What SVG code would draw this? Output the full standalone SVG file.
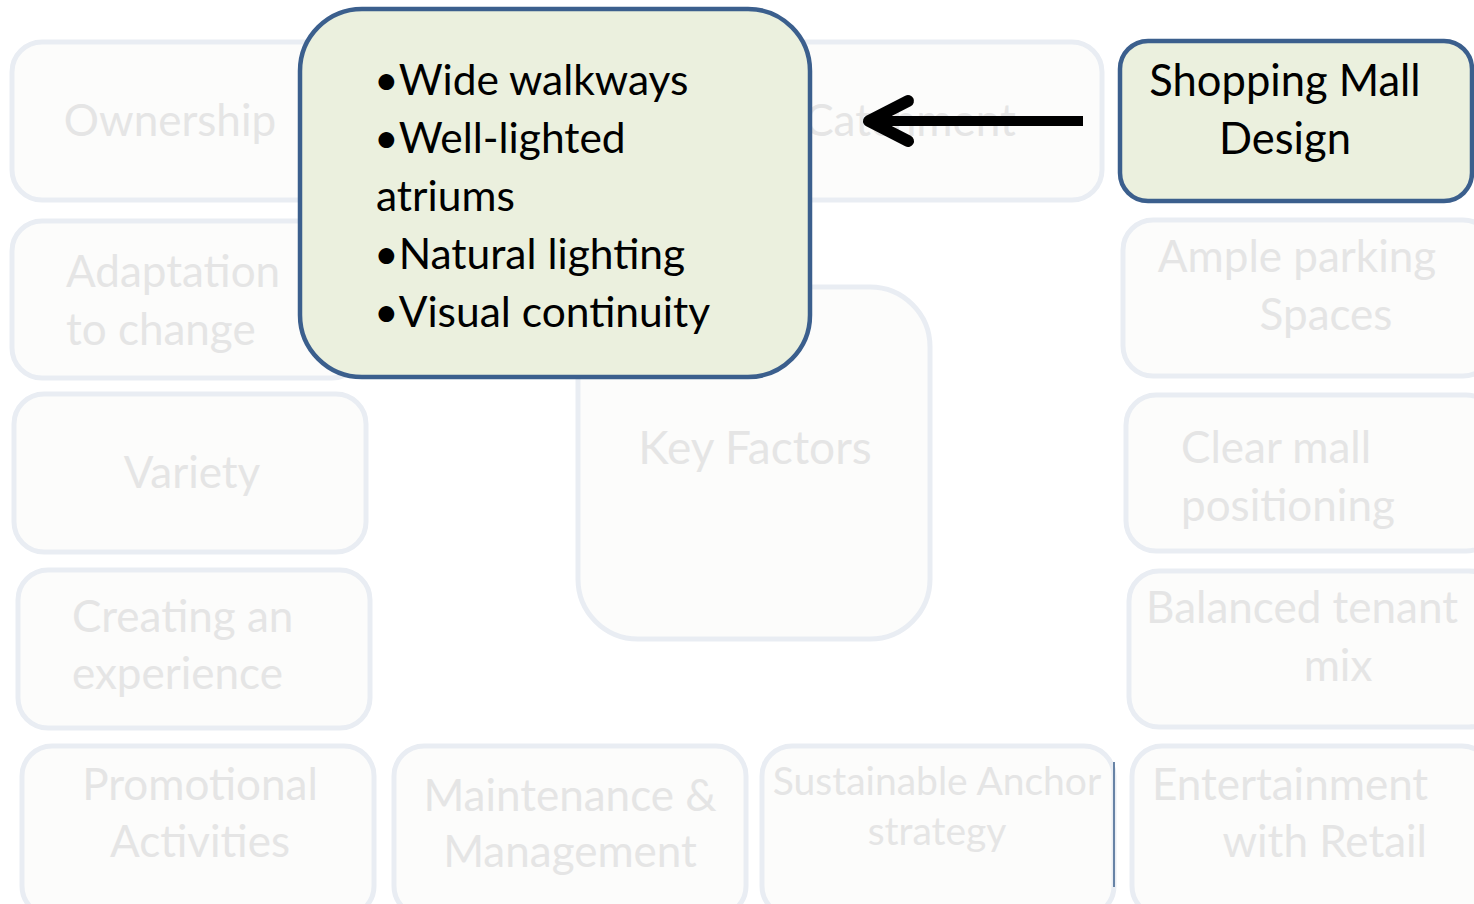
<svg xmlns="http://www.w3.org/2000/svg" width="1474" height="904" viewBox="0 0 1474 904">
<style>
.fb{fill:#fcfcfb;stroke:#e9edf3;stroke-width:5}
.ft{font-family:Lato,"Open Sans",sans-serif;font-size:44px;fill:#e5e5e5}
.gb{fill:#ebf0de;stroke:#3b5f8d;stroke-width:4.5}
.gt{font-family:Lato,"Open Sans",sans-serif;font-size:42.5px;fill:#000}
</style>
<rect width="1474" height="904" fill="#ffffff"/>
<g id="ownership"><rect class="fb" x="12" y="42" width="340" height="158" rx="30"/><text class="ft" x="170" y="136" text-anchor="middle">Ownership</text></g>
<g id="catchment"><rect class="fb" x="730" y="42" width="372" height="158" rx="30"/><text class="ft" x="910" y="136" text-anchor="middle">Catchment</text></g>
<g id="adaptation"><rect class="fb" x="12" y="221" width="350" height="157" rx="30"/><text class="ft" x="66" y="287">Adaptation</text><text class="ft" x="66" y="345">to change</text></g>
<g id="variety"><rect class="fb" x="14" y="394" width="352" height="158" rx="30"/><text class="ft" x="192" y="488" text-anchor="middle">Variety</text></g>
<g id="experience"><rect class="fb" x="18" y="570" width="352" height="158" rx="30"/><text class="ft" x="72" y="632">Creating an</text><text class="ft" x="72" y="689">experience</text></g>
<g id="promotional"><rect class="fb" x="22" y="746" width="352" height="170" rx="30"/><text class="ft" x="200" y="800" text-anchor="middle">Promotional</text><text class="ft" x="200" y="857" text-anchor="middle">Activities</text></g>
<g id="maintenance"><rect class="fb" x="394" y="746" width="352" height="170" rx="30"/><text class="ft" x="570" y="811" text-anchor="middle">Maintenance &amp;</text><text class="ft" x="570" y="867" text-anchor="middle">Management</text></g>
<g id="anchor"><rect class="fb" x="762" y="746" width="352" height="170" rx="30"/><text class="ft" x="937" y="795" text-anchor="middle" style="font-size:39px">Sustainable Anchor</text><text class="ft" x="937" y="845" text-anchor="middle" style="font-size:39px">strategy</text></g>
<g id="entertainment"><rect class="fb" x="1132" y="746" width="360" height="170" rx="30"/><text class="ft" x="1152" y="800">Entertainment</text><text class="ft" x="1427" y="857" text-anchor="end">with Retail</text></g>
<g id="parking"><rect class="fb" x="1123" y="220" width="370" height="156" rx="30"/><text class="ft" x="1297" y="272" text-anchor="middle">Ample parking</text><text class="ft" x="1326" y="330" text-anchor="middle">Spaces</text></g>
<g id="positioning"><rect class="fb" x="1126" y="395" width="370" height="156" rx="30"/><text class="ft" x="1181" y="463">Clear mall</text><text class="ft" x="1181" y="521">positioning</text></g>
<g id="tenant"><rect class="fb" x="1129" y="571" width="370" height="156" rx="30"/><text class="ft" x="1302" y="623" text-anchor="middle">Balanced tenant</text><text class="ft" x="1338" y="681" text-anchor="middle">mix</text></g>
<g id="keyfactors"><rect class="fb" x="578" y="287" width="352" height="352" rx="60"/><text class="ft" x="755" y="464" text-anchor="middle" style="font-size:46px">Key Factors</text></g>
<g id="features"><rect class="gb" x="300" y="9" width="510" height="368" rx="62"/>
<text class="gt" x="374" y="95">•Wide walkways</text>
<text class="gt" x="374" y="153">•Well-lighted</text>
<text class="gt" x="376" y="211">atriums</text>
<text class="gt" x="374" y="269">•Natural lighting</text>
<text class="gt" x="374" y="327">•Visual continuity</text></g>
<g id="mall"><rect class="gb" x="1120" y="41" width="352" height="160" rx="28"/><text class="gt" x="1285" y="96" text-anchor="middle" style="font-size:43.5px">Shopping Mall</text><text class="gt" x="1285" y="154" text-anchor="middle" style="font-size:43.5px">Design</text></g>
<g id="connectors">
<line x1="1083" y1="121" x2="874" y2="121" stroke="#000" stroke-width="10"/>
<polyline points="908,101 869,121 908,141" fill="none" stroke="#000" stroke-width="12" stroke-linecap="round" stroke-linejoin="round"/>
<line x1="1114" y1="762" x2="1114" y2="887" stroke="#3b5f8d" stroke-width="1.5"/>
</g>
</svg>
